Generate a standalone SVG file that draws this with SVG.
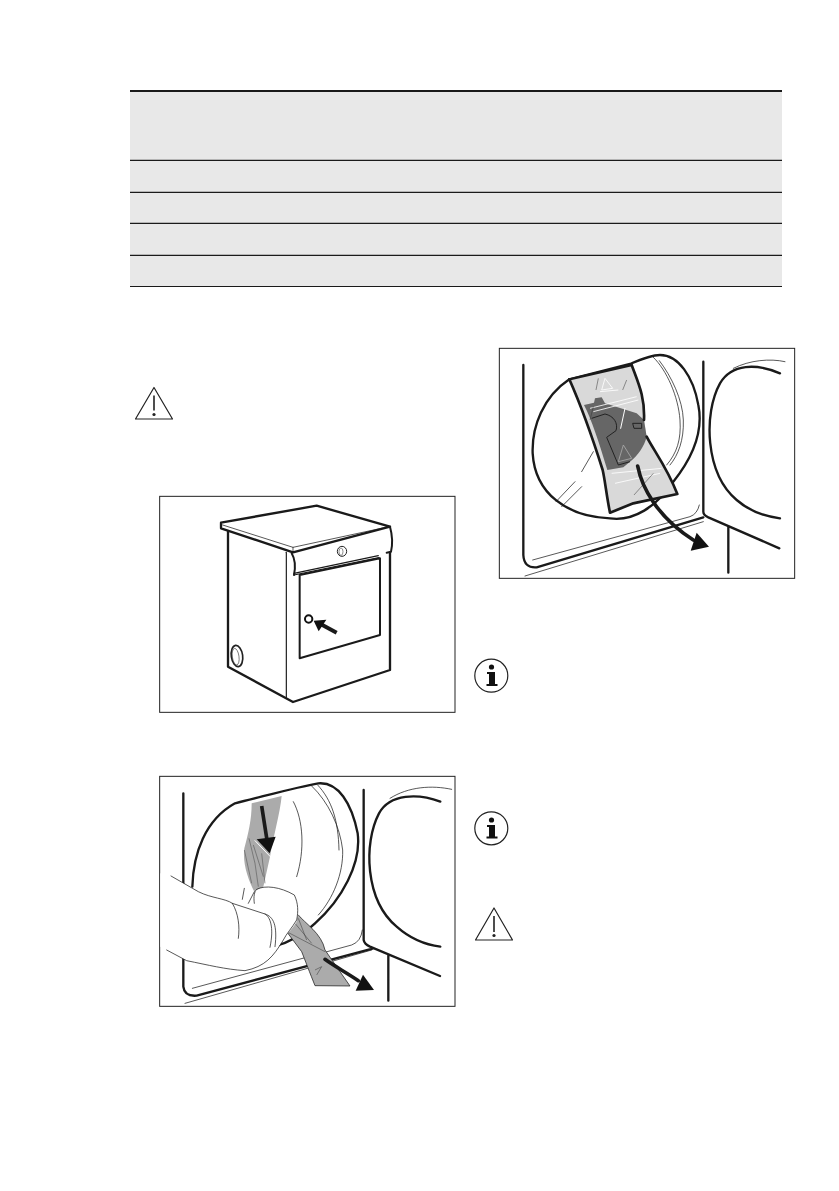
<svg xmlns="http://www.w3.org/2000/svg" width="839" height="1191" viewBox="0 0 839 1191">
<style>
.k{fill:none;stroke:#1a1a1a;stroke-linecap:round;stroke-linejoin:round}
.t3{stroke-width:3.500}.t2{stroke-width:2.200}.t6{stroke-width:7}.t8{stroke-width:11}.t5{stroke-width:6}
.w{fill:none;stroke:#fff;stroke-width:3;stroke-linecap:round}
.fr{fill:#fff;stroke:#222;stroke-width:3}
.a{fill:#111}
.rule{stroke:#1a1a1a;stroke-width:1.200}
</style>
<rect width="839" height="1191" fill="#fff"/>
<g id="table">
<rect x="130" y="91" width="652" height="195" fill="#e8e8e8"/>
<line x1="130" x2="782" y1="91" y2="91" stroke="#1a1a1a" stroke-width="2.200"/>
<line class="rule" x1="130" x2="782" y1="160.300" y2="160.300"/>
<line class="rule" x1="130" x2="782" y1="192.300" y2="192.300"/>
<line class="rule" x1="130" x2="782" y1="223.300" y2="223.300"/>
<line class="rule" x1="130" x2="782" y1="255.300" y2="255.300"/>
<line class="rule" x1="130" x2="782" y1="286.500" y2="286.500"/>
</g>
<g id="warn1" transform="translate(135,386.500)">
<path d="M19,1 L37.500,32.500 H0.500 Z" fill="#fff" stroke="#222" stroke-width="1.200" stroke-linejoin="round"/>
<line x1="19" y1="9" x2="19" y2="24" stroke="#222" stroke-width="1.600"/><circle cx="19" cy="28" r="1.600" fill="#222"/>
</g>
<g id="fig-bag" transform="translate(490,340) scale(.33333)">
<rect class="fr" x="28" y="25" width="886" height="690"/>
<path class="k t6" d="M100,75 V645 Q102,685 140,682 L640,532"/>
<path class="k t2" d="M128,660 L600,530 Q622,522 628,495 M105,708 L640,545"/>
<path class="k t6" d="M640,65 V515 Q640,525 655,532 L868,625 M715,562 V698"/>
<path class="k t6" d="M870,100 C800,70 725,70 690,130 C640,220 645,400 740,480 C780,515 830,530 870,535"/>
<path class="k t2" d="M730,85 C780,60 840,55 885,65"/>
<path class="k t6" fill="#fff" d="M238,118 C160,170 125,260 128,340 C135,460 230,530 360,535 C430,545 500,500 550,425 C610,350 640,270 625,195 C610,110 565,45 510,45 C490,45 460,55 420,72 Z"/>
<path class="k t2" d="M490,52 C530,90 565,170 570,240 C574,300 560,340 530,375 M508,62 C545,110 578,180 580,240 C582,300 565,345 540,375"/>
<path class="k t2" d="M198,485 L255,425 M215,500 L275,440 M275,395 L310,335"/>
<path d="M238,118 L425,75 C445,130 465,170 462,240 L470,290 C490,330 530,380 562,462 L440,488 L360,518 C350,470 345,420 338,390 C300,270 270,190 238,118 Z" fill="#d9d9d9"/>
<path d="M282,195 L312,188 L315,175 L335,172 L345,190 L440,220 L462,240 L470,290 C462,320 445,345 420,365 L400,382 L352,390 C325,300 305,240 282,195 Z" fill="#666"/>
<path d="M305,235 L345,222 C372,228 385,250 378,272 L350,292 L385,375 L420,365 M428,250 H455 V265 H432 Z" fill="none" stroke="#222" stroke-width="3"/>
<path d="M400,315 L425,355 L385,365 Z" fill="none" stroke="#aaa" stroke-width="2.500"/>
<path d="M345,115 L368,145 L335,150 Z M330,155 L385,150 M365,400 L515,385 M375,430 L510,400 M300,205 L440,170 M310,215 L445,180" fill="none" stroke="#fff" stroke-width="2.500"/>
<path d="M410,120 L398,150 M325,115 L318,150 M310,200 L300,240 M432,465 L490,400" fill="none" stroke="#333" stroke-width="1.500"/>
<path class="w" d="M405,205 L392,265"/>
<path d="M238,118 L425,75" class="k t6"/>
<path class="k t8" style="stroke-width:8" d="M238,118 C270,190 300,270 338,390 C345,420 350,470 360,518 L430,490 L440,488 L562,462 C530,380 490,330 470,290 M425,75 C445,130 465,170 462,240"/>
<path class="k t8" d="M443,378 C455,440 500,530 610,600"/>
<path class="a" d="M602,632 L657,620 L620,578 Z"/>
</g>
<g id="fig-dryer" transform="translate(155,490) scale(.33333)">
<rect class="fr" x="14" y="19" width="886" height="648"/>
<path class="k t6" fill="#fff" d="M219,125 V530 L414,636 L705,540 V188"/>
<path class="k t3" d="M394,187 V622"/>
<path class="k t5" fill="#fff" style="stroke-width:7" d="M198,98 L485,47 L705,110 L414,187 L198,115 Z"/>
<path class="k t2" d="M203,105 L414,172 L702,110"/>
<path class="k t2" d="M414,172 V187"/>
<path class="k t5" d="M705,110 Q716,150 708,185 L695,188 M410,190 Q425,215 417,255"/>
<path class="k t3" d="M417,255 L672,203 M417,250 L670,197"/>
<path class="k t5" fill="#fff" d="M434,255 L675,205 V435 L434,505 Z"/>
<ellipse cx="561" cy="184" rx="14" ry="15" fill="none" stroke="#222" stroke-width="3"/>
<ellipse cx="558" cy="185" rx="6" ry="11" fill="none" stroke="#555" stroke-width="2"/>
<circle cx="461" cy="387" r="11" fill="#fff" stroke="#111" stroke-width="6"/>
<path class="k" stroke-width="12" style="stroke-linecap:butt" d="M545,428 L498,403"/>
<path class="a" d="M476,392 L514,389 L491,424 Z"/>
<ellipse cx="246" cy="498" rx="17" ry="32" fill="#fff" stroke="#222" stroke-width="5" transform="rotate(-8 246 498)"/>
<ellipse cx="242" cy="500" rx="10" ry="25" fill="none" stroke="#444" stroke-width="2" transform="rotate(-8 242 500)"/>
</g>
<g id="fig-pull" transform="translate(155,770) scale(.33333)">
<rect class="fr" x="14" y="19" width="886" height="690"/>
<path class="k t6" d="M85,70 V650 Q88,680 125,677 L655,535 M626,60 V510 Q628,522 645,530 L855,618 M700,555 V692"/>
<path class="k t2" d="M112,655 L590,525 Q618,515 622,480 M90,700 L650,540"/>
<path class="k t6" d="M856,95 C790,70 705,70 672,130 C625,220 630,390 725,470 C770,510 815,525 856,530"/>
<path class="k t2" d="M705,85 C760,50 830,45 890,58"/>
<path class="k t6" fill="#fff" d="M112,350 C115,250 150,150 240,100 C330,78 430,50 490,40 C550,35 590,100 608,190 C620,280 560,390 480,460 C450,490 410,515 355,530"/>
<path class="k t2" d="M470,48 C520,95 555,170 563,240 C565,310 535,385 490,435 M488,45 C530,90 550,150 552,240 M415,95 C445,150 450,240 425,320"/>
<path d="M290,100 L380,78 C375,130 355,200 345,260 L325,350 L298,365 C280,330 262,280 268,235 C280,190 290,150 290,100 Z" fill="#ababab"/>
<path d="M282,205 L300,280 L310,350 M295,225 L325,320 M320,250 L330,340 M268,240 L290,340" fill="none" stroke="#444" stroke-width="1.500"/>
<path class="w" d="M300,212 L348,262"/>
<path class="k t8" style="stroke-linecap:butt" d="M320,108 L336,210"/>
<path class="a" d="M305,208 L362,200 L344,250 Z"/>
<path d="M430,435 C450,460 500,490 510,540 L585,648 L480,647 C465,610 450,570 440,545 L395,485 Z" fill="#ababab"/>
<path d="M420,460 L470,520 M395,485 L510,545 M430,445 L455,510 M480,600 L500,590 L485,615" fill="none" stroke="#333" stroke-width="1.500"/>
<path class="k t2" d="M430,435 C450,460 500,490 510,540 L585,648 L480,647 C465,610 450,570 440,545 L395,485"/>
<path d="M16,310 L48,318 L130,365 C170,385 210,385 245,405 L298,420 L298,365 C320,345 375,345 418,375 C430,400 430,425 425,455 C410,480 395,490 385,510 C350,560 330,590 270,602 C210,598 160,585 95,572 L35,540 L16,530 Z" fill="#fff"/>
<path class="k t2" d="M48,318 L130,365 C170,385 210,385 232,400 C250,430 255,470 250,505 M232,400 L330,432 C355,440 368,465 360,530 M330,432 C345,440 358,470 345,532 M298,400 C295,380 298,365 305,358 C330,345 375,350 418,375 C430,400 430,425 425,450 C410,475 395,490 385,510 C355,560 330,590 270,602 C210,598 160,585 95,572 L35,540 M268,355 L262,388 M298,365 L280,400"/>
<path class="k t8" d="M510,568 C540,590 570,605 610,632"/>
<path class="a" d="M602,662 L657,660 L624,614 Z"/>
</g>
<g id="info1">
<circle cx="491.300" cy="675.700" r="16.500" fill="#fff" stroke="#222" stroke-width="1.200"/>
<circle cx="491.500" cy="667" r="2.600" fill="#111"/>
<path d="M487,672 H495 V684 H497.500 V686 H486.500 V684 H489 V674 H487 Z" fill="#111"/>
</g>
<g id="info2">
<circle cx="491.300" cy="828.300" r="16.500" fill="#fff" stroke="#222" stroke-width="1.200"/>
<circle cx="491.500" cy="820" r="2.600" fill="#111"/>
<path d="M487,825 H495 V836.500 H497.500 V838.500 H486.500 V836.500 H489 V827 H487 Z" fill="#111"/>
</g>
<g id="warn2" transform="translate(475,907)">
<path d="M19,1 L37.500,33 H0.500 Z" fill="#fff" stroke="#222" stroke-width="1.200" stroke-linejoin="round"/>
<line x1="19" y1="9" x2="19" y2="25" stroke="#222" stroke-width="1.600"/><circle cx="19" cy="28.500" r="1.600" fill="#222"/>
</g>
</svg>
